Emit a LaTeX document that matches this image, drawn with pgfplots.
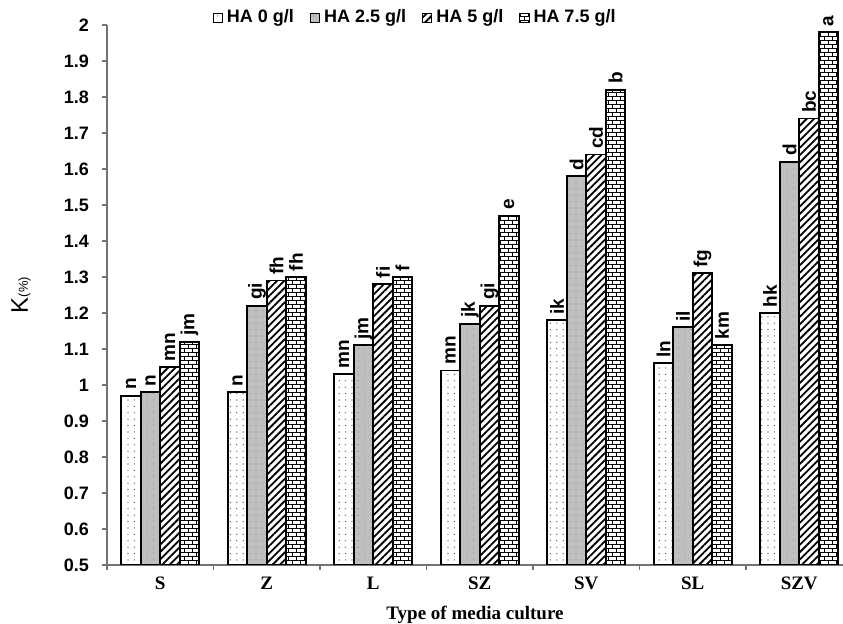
\documentclass[border=0pt]{standalone}
\usepackage{fontspec}
\setmainfont{Liberation Serif}
\setsansfont{Liberation Sans}
\usepackage{pgfplots}
\pgfplotsset{compat=1.18}
\usepackage{pgfplotstable}
\usetikzlibrary{patterns,patterns.meta,calc}

\pgfdeclarepatternformonly{mybricks}{\pgfpoint{-0.5pt}{-0.5pt}}{\pgfpoint{4.5pt}{4.5pt}}{\pgfpoint{4pt}{4pt}}{
  \pgfsetlinewidth{0.45pt}
  \pgfpathmoveto{\pgfpoint{0pt}{0pt}}\pgfpathlineto{\pgfpoint{4pt}{0pt}}
  \pgfpathmoveto{\pgfpoint{0pt}{2pt}}\pgfpathlineto{\pgfpoint{4pt}{2pt}}
  \pgfpathmoveto{\pgfpoint{0pt}{0pt}}\pgfpathlineto{\pgfpoint{0pt}{2pt}}
  \pgfpathmoveto{\pgfpoint{2pt}{2pt}}\pgfpathlineto{\pgfpoint{2pt}{4pt}}
  \pgfusepath{stroke}
}

\pgfplotstableread{
x y0 l0 y1 l1 y2 l2 y3 l3
0 0.97 n  0.98 n  1.05 mn 1.12 jm
1 0.98 n  1.22 gi 1.29 fh 1.30 fh
2 1.03 mn 1.11 jm 1.28 fi 1.30 f
3 1.04 mn 1.17 jk 1.22 gi 1.47 e
4 1.18 ik 1.58 d  1.64 cd 1.82 b
5 1.06 ln 1.16 il 1.31 fg 1.11 km
6 1.20 hk 1.62 d  1.74 bc 1.98 a
}\data

\begin{document}
\begin{tikzpicture}
\begin{axis}[
  scale only axis, width=368pt, height=270pt,
  ybar=0pt, bar width=9.75pt,
  xmin=-0.5, xmax=6.411, ymin=0.5, ymax=2,
  axis x line*=bottom, axis y line*=left,
  axis line style={-, draw=black!55, line width=0.6pt},
  xtick={0,...,6}, xticklabels={S,Z,L,SZ,SV,SL,SZV},
  minor xtick={-0.5,0.5,...,5.5},
  major x tick style={draw=none},
  ytick distance=0.1,
  tick align=outside, major tick length=2.5pt, minor tick length=2.5pt,
  tick style={draw=black!55, line width=0.6pt},
  /pgf/number format/assume math mode=true,
  yticklabel style={font=\fontsize{9}{10}\selectfont\sffamily\bfseries, xshift=-3pt},
  xticklabel style={font=\fontsize{9.5}{11}\selectfont\rmfamily\bfseries, yshift=0pt},
  xlabel={Type of media culture},
  every axis x label/.style={at={(axis description cs:0.5,0)}, yshift=-25pt, anchor=center, font=\fontsize{9.5}{11}\selectfont\rmfamily\bfseries},
  ylabel={K{\fontsize{6.5}{7}\selectfont(\%)}},
  every axis y label/.style={at={(axis description cs:0,0.5)}, xshift=-43pt, anchor=center, rotate=90, font=\fontsize{12}{13}\selectfont\sffamily},
  point meta=explicit symbolic,
  nodes near coords,
  every node near coord/.append style={rotate=90, anchor=west, inner sep=2.5pt, font=\fontsize{9.5}{10}\selectfont\sffamily\bfseries},
  legend columns=4,
  legend style={draw=none, fill=none, at={(axis description cs:0.42,1.013)}, anchor=center,
    font=\fontsize{9}{10}\selectfont\sffamily\bfseries,
    /tikz/every even column/.append style={column sep=6pt}},
  legend image code/.code={\draw[#1, line width=0.5pt] (0pt,-2.3pt) rectangle (4.6pt,2.3pt);},
  every axis plot/.append style={draw=black, line width=0.9pt},
]
\addplot[fill=white, postaction={pattern={Dots[distance=3.2pt,radius=0.3pt]},pattern color=black!80}]
  table[x=x, y=y0, meta=l0] {\data};
\addplot[fill=black!25, postaction={pattern={Dots[distance=3.2pt,radius=0.35pt]},pattern color=black!40}]
  table[x=x, y=y1, meta=l1] {\data};
\addplot[fill=white, postaction={pattern={Lines[angle=45,distance=2.6pt,line width=0.9pt]},pattern color=black}]
  table[x=x, y=y2, meta=l2] {\data};
\addplot[fill=white, postaction={pattern=mybricks,pattern color=black}]
  table[x=x, y=y3, meta=l3] {\data};
\legend{HA 0 g/l, HA 2.5 g/l, HA 5 g/l, HA 7.5 g/l}
\coordinate (bl) at (rel axis cs:0,0);
\coordinate (tr) at (rel axis cs:1,1);
\end{axis}
\pgfresetboundingbox
\path ($(bl)+(-53.5pt,-29.5pt)$) rectangle ($(tr)+(0pt,12.5pt)$);
\end{tikzpicture}
\end{document}
